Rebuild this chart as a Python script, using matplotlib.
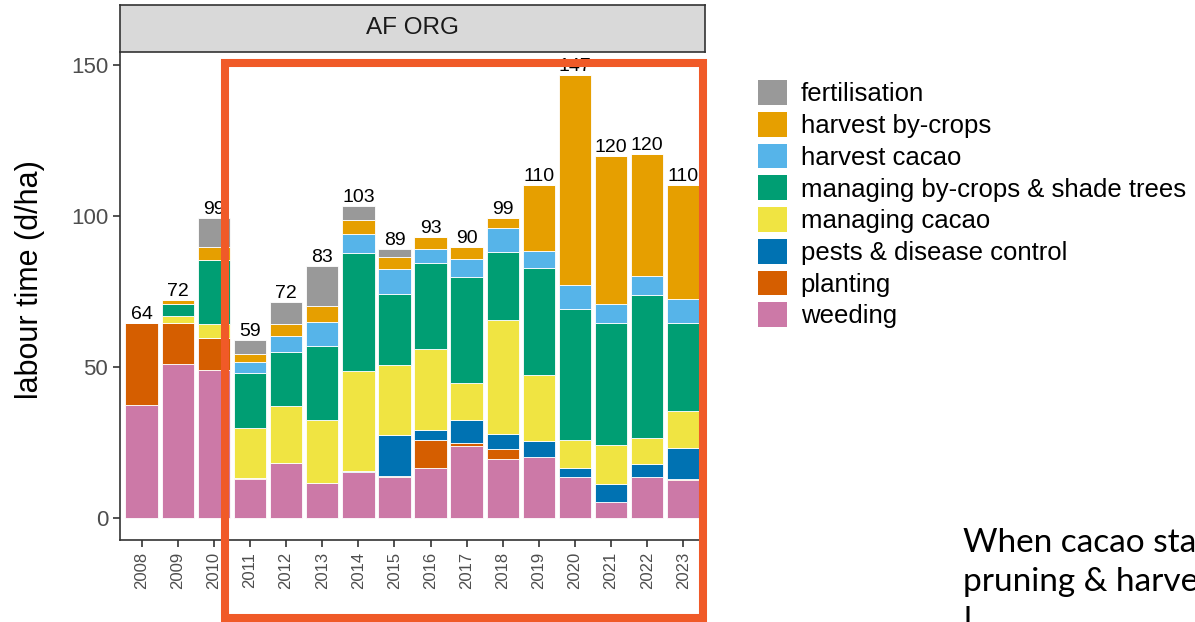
import numpy as np
import matplotlib
matplotlib.use("Agg")
import matplotlib.pyplot as plt
from matplotlib.patches import Rectangle, Patch

plt.rcParams['font.family'] = ['Liberation Sans', 'DejaVu Sans']

years = [str(y) for y in range(2008, 2024)]

# stacked bottom -> top
weeding = [37.4, 51.0, 49.0, 12.7, 18.0, 11.7, 15.3, 13.4, 16.6, 23.8, 19.6, 20.3, 13.6, 5.4, 13.5, 12.5]
planting = [27.0, 13.6, 10.5, 0.5, 0, 0, 0, 0.3, 9.2, 1.1, 3.1, 0, 0, 0, 0, 0.5]
pests = [0, 0, 0, 0, 0, 0, 0.3, 13.7, 3.4, 7.4, 5.2, 5.1, 3.0, 5.9, 4.2, 10.2]
managing_cacao = [0, 2.2, 4.8, 16.5, 19.2, 20.6, 33.0, 23.2, 26.6, 12.5, 37.8, 21.9, 9.2, 12.8, 8.9, 12.2]
managing_bycrops = [0, 4.1, 21.1, 18.2, 17.6, 24.6, 39.1, 23.6, 28.5, 34.9, 22.4, 35.5, 43.5, 40.5, 47.1, 29.2]
harvest_cacao = [0, 0, 0, 3.7, 5.4, 7.9, 6.4, 8.1, 4.8, 6.2, 7.8, 5.6, 8.0, 6.4, 6.4, 7.8]
harvest_bycrops = [0, 1.4, 4.4, 2.7, 4.1, 5.3, 4.6, 4.2, 3.8, 3.8, 3.4, 22.0, 69.5, 49.0, 40.3, 38.0]
fertilisation = [0, 0, 9.4, 4.7, 7.3, 13.3, 4.7, 2.6, 0, 0, 0, 0, 0, 0, 0, 0]

series = [
    ("weeding", weeding, "#CC79A7"),
    ("planting", planting, "#D55E00"),
    ("pests & disease control", pests, "#0072B2"),
    ("managing cacao", managing_cacao, "#F0E442"),
    ("managing by-crops & shade trees", managing_bycrops, "#009E73"),
    ("harvest cacao", harvest_cacao, "#56B4E9"),
    ("harvest by-crops", harvest_bycrops, "#E69F00"),
    ("fertilisation", fertilisation, "#999999"),
]

note_lines = ["When cacao sta", "pruning & harve", "l"]

W, H = 1195, 622
fig = plt.figure(figsize=(W / 100, H / 100), dpi=100)
ax = fig.add_axes([120 / W, 1 - 540 / H, 585 / W, 488 / H])

x = np.arange(len(years))
bottom = np.zeros(len(years))
for name, vals, col in series:
    v = np.array(vals, dtype=float)
    ax.bar(x, v, width=0.9, bottom=bottom, color=col, edgecolor="white", linewidth=0.6)
    bottom += v

totals = bottom
for xi, t in zip(x, totals):
    ax.text(xi, t, f"{int(np.round(t))}", ha="center", va="bottom", fontsize=14, color="black")

ax.set_xlim(-0.6, len(years) - 0.4)
ax.set_ylim(-7.35, 154.35)
ax.set_yticks([0, 50, 100, 150])
ax.set_xticks(x)
ax.set_xticklabels(years, rotation=90)
ax.tick_params(axis="y", labelsize=16, colors="#333333", labelcolor="#4D4D4D", length=5, width=1.2)
ax.tick_params(axis="x", labelsize=12, colors="#333333", labelcolor="#4D4D4D", length=5, width=1.2)
for s in ["top", "right"]:
    ax.spines[s].set_visible(False)
for s in ["left", "bottom"]:
    ax.spines[s].set_color("#333333")
    ax.spines[s].set_linewidth(1.2)
ax.set_ylabel("labour time (d/ha)", fontsize=22)
ax.yaxis.set_label_coords(-0.128, 0.533)

# facet strip
strip = fig.add_axes([120 / W, 1 - 52 / H, 585 / W, 47 / H])
strip.set_facecolor("#D9D9D9")
strip.set_xticks([])
strip.set_yticks([])
for s in strip.spines.values():
    s.set_color("#333333")
    s.set_linewidth(1.2)
strip.text(0.5, 0.5, "AF ORG", ha="center", va="center", fontsize=17.5, color="#1A1A1A",
           transform=strip.transAxes)

# legend
handles = [Patch(facecolor=col, edgecolor="none", label=name) for name, _, col in series[::-1]]
fig.legend(handles=handles, loc="upper left", bbox_to_anchor=(748 / W, 1 - 70 / H),
           frameon=False, fontsize=18.5, handlelength=1.1, handleheight=1.1,
           handletextpad=0.55, labelspacing=0.22, borderaxespad=0)

# highlight rectangle
fig.patches.append(Rectangle((225 / W, 1 - 617.5 / H), (703.3 - 225) / W, (617.5 - 63) / H,
                             transform=fig.transFigure, fill=False, edgecolor="#F05A28",
                             linewidth=5.8, zorder=5))

# slide text, cut off at the right / bottom edge
for i, line in enumerate(note_lines):
    fig.text(963 / W, 1 - (552 + 39 * i) / H, line, fontsize=24,
             family=["Lato", "DejaVu Sans"], va="baseline", ha="left")

fig.savefig("out.png", dpi=100)
